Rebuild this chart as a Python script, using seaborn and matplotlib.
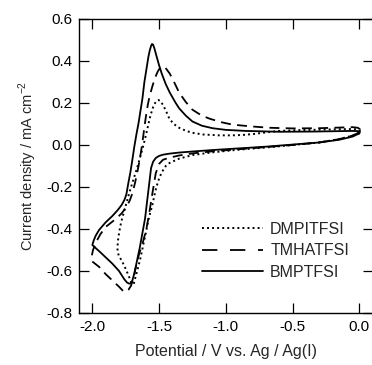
import matplotlib
matplotlib.use("Agg")
import matplotlib.pyplot as plt
import seaborn as sns

# cyclic voltammograms, values (scan order: 0 V -> vertex -> 0 V)
dmp_e = [0.00, -0.05, -0.15, -0.30, -0.50, -0.70, -0.90, -1.10, -1.25, -1.35,
         -1.42, -1.45, -1.48, -1.50, -1.52, -1.535, -1.55, -1.565, -1.58, -1.60,
         -1.62, -1.64, -1.66, -1.675, -1.69, -1.705, -1.72, -1.75, -1.78, -1.80,
         -1.81,
         -1.812, -1.808, -1.80, -1.79, -1.775, -1.755, -1.737, -1.715, -1.69, -1.665,
         -1.645, -1.625, -1.605, -1.585, -1.565, -1.545, -1.53, -1.515, -1.505, -1.49,
         -1.47, -1.45, -1.423, -1.39, -1.35, -1.30, -1.25, -1.17, -1.05, -0.95,
         -0.87, -0.78, -0.70, -0.60, -0.45, -0.30, -0.15, -0.05, -0.01, 0.005,
         0.00]
dmp_j = [0.058, 0.045, 0.028, 0.012, 0.0, -0.012, -0.022, -0.035, -0.048, -0.065,
         -0.085, -0.10, -0.13, -0.16, -0.20, -0.24, -0.285, -0.32, -0.357, -0.42,
         -0.48, -0.54, -0.59, -0.625, -0.662, -0.66, -0.635, -0.59, -0.55, -0.53,
         -0.51,
         -0.49, -0.455, -0.42, -0.385, -0.345, -0.30, -0.26, -0.21, -0.16, -0.11,
         -0.065, -0.02, 0.03, 0.085, 0.14, 0.18, 0.20, 0.212, 0.214, 0.21,
         0.19, 0.165, 0.125, 0.10, 0.082, 0.068, 0.058, 0.050, 0.046, 0.046,
         0.048, 0.053, 0.060, 0.067, 0.071, 0.073, 0.075, 0.076, 0.074, 0.068,
         0.062]

tmh_e = [0.00, -0.05, -0.15, -0.30, -0.50, -0.70, -0.90, -1.10, -1.25, -1.35,
         -1.42, -1.47, -1.50, -1.525, -1.55, -1.575, -1.595, -1.62, -1.65, -1.67,
         -1.69, -1.71, -1.73, -1.75, -1.77, -1.80, -1.85, -1.90, -1.95, -2.00,
         -2.005, -1.995, -1.97, -1.94, -1.90, -1.86, -1.82, -1.78, -1.75, -1.72,
         -1.70, -1.68, -1.66, -1.645, -1.63, -1.615, -1.60, -1.585, -1.57, -1.55,
         -1.53, -1.51, -1.49, -1.475, -1.455, -1.42, -1.38, -1.35, -1.30, -1.25,
         -1.18, -1.12, -1.03, -0.95, -0.80, -0.67, -0.50, -0.30, -0.15, -0.05,
         -0.01, 0.005, 0.00]
tmh_j = [0.06, 0.045, 0.028, 0.012, 0.0, -0.010, -0.020, -0.030, -0.040, -0.050,
         -0.060, -0.070, -0.090, -0.135, -0.23, -0.33, -0.40, -0.46, -0.52, -0.57,
         -0.63, -0.67, -0.69, -0.70, -0.695, -0.675, -0.645, -0.615, -0.58, -0.555,
         -0.53, -0.50, -0.46, -0.425, -0.39, -0.37, -0.35, -0.325, -0.30, -0.265,
         -0.23, -0.18, -0.12, -0.07, -0.01, 0.06, 0.13, 0.19, 0.235, 0.28,
         0.32, 0.35, 0.37, 0.373, 0.37, 0.34, 0.29, 0.25, 0.205, 0.168,
         0.14, 0.125, 0.108, 0.097, 0.088, 0.082, 0.079, 0.080, 0.083, 0.085,
         0.082, 0.075, 0.068]

bmp_e = [0.00, -0.05, -0.15, -0.30, -0.50, -0.70, -0.90, -1.10, -1.25, -1.35,
         -1.42, -1.47, -1.50, -1.525, -1.545, -1.56, -1.575, -1.59, -1.605, -1.625,
         -1.645, -1.665, -1.685, -1.70, -1.711, -1.725, -1.74, -1.762, -1.80, -1.85,
         -1.90, -1.95, -1.98, -2.00,
         -1.99, -1.975, -1.95, -1.90, -1.85, -1.81, -1.78, -1.76, -1.745, -1.73,
         -1.715, -1.70, -1.686, -1.67, -1.655, -1.64, -1.625, -1.61, -1.595, -1.58,
         -1.57, -1.56, -1.553, -1.545, -1.535, -1.52, -1.50, -1.48, -1.45, -1.42,
         -1.38, -1.35, -1.30, -1.25, -1.18, -1.10, -1.00, -0.85, -0.60, -0.35,
         -0.15, -0.05, -0.01, 0.005, 0.00]
bmp_j = [0.055, 0.040, 0.025, 0.012, 0.002, -0.008, -0.016, -0.024, -0.031, -0.036,
         -0.041, -0.046, -0.052, -0.062, -0.080, -0.11, -0.19, -0.27, -0.35, -0.42,
         -0.49, -0.55, -0.61, -0.645, -0.659, -0.66, -0.655, -0.638, -0.600, -0.565,
         -0.535, -0.505, -0.488, -0.476,
         -0.455, -0.432, -0.405, -0.368, -0.338, -0.31, -0.285, -0.262, -0.235, -0.18,
         -0.13, -0.07, -0.01, 0.05, 0.10, 0.16, 0.22, 0.30, 0.36, 0.42,
         0.45, 0.472, 0.481, 0.478, 0.46, 0.425, 0.38, 0.34, 0.29, 0.25,
         0.205, 0.175, 0.14, 0.112, 0.092, 0.080, 0.072, 0.067, 0.063, 0.064,
         0.066, 0.067, 0.066, 0.062, 0.055]

labels = ["DMPITFSI", "TMHATFSI", "BMPTFSI"]
xticks = [-2.0, -1.5, -1.0, -0.5, 0.0]
yticks = [-0.8, -0.6, -0.4, -0.2, 0.0, 0.2, 0.4, 0.6]

sns.set_style("ticks")
plt.rcParams["font.family"] = ["Liberation Sans", "DejaVu Sans"]
plt.rcParams["axes.unicode_minus"] = False

fig = plt.figure(figsize=(3.72, 3.65), dpi=100)
ax = fig.add_axes([79 / 372, 52 / 365, 293.6 / 372, 294 / 365])

sns.lineplot(x=dmp_e, y=dmp_j, sort=False, estimator=None, color="black",
             linewidth=1.4, linestyle=(0, (1.0, 1.6)), label=labels[0], ax=ax)
sns.lineplot(x=tmh_e, y=tmh_j, sort=False, estimator=None, color="black",
             linewidth=1.3, linestyle=(0, (5.5, 3.5)), label=labels[1], ax=ax)
sns.lineplot(x=bmp_e, y=bmp_j, sort=False, estimator=None, color="black",
             linewidth=1.3, linestyle="-", label=labels[2], ax=ax)

ax.set_xlim(-2.1, 0.1)
ax.set_ylim(-0.8, 0.6)
ax.set_xticks(xticks)
ax.set_yticks(yticks)
ax.set_xticklabels([f"{v:.1f}" for v in xticks])
ax.set_yticklabels([f"{v:.1f}" for v in yticks])
ax.tick_params(direction="in", length=7.5, width=0.9, top=True, right=True,
               labelsize=11, pad=5, colors="black")
for s in ax.spines.values():
    s.set_linewidth(1.0)
    s.set_color("black")

ax.set_xlabel("Potential / V vs. Ag / Ag(I)", fontsize=11.5, labelpad=7)
ax.set_ylabel("Current density / mA cm$^{\\mathregular{-2}}$", fontsize=10.5, labelpad=5)

leg = ax.legend(loc="upper left", bbox_to_anchor=(0.42, 0.31), frameon=False,
                fontsize=11.5, handlelength=3.8, handletextpad=0.45,
                labelspacing=0.4, borderpad=0, borderaxespad=0)
leg.get_lines()[1].set_linestyle((0, (8.5, 7)))

fig.savefig("out.png", dpi=100)
